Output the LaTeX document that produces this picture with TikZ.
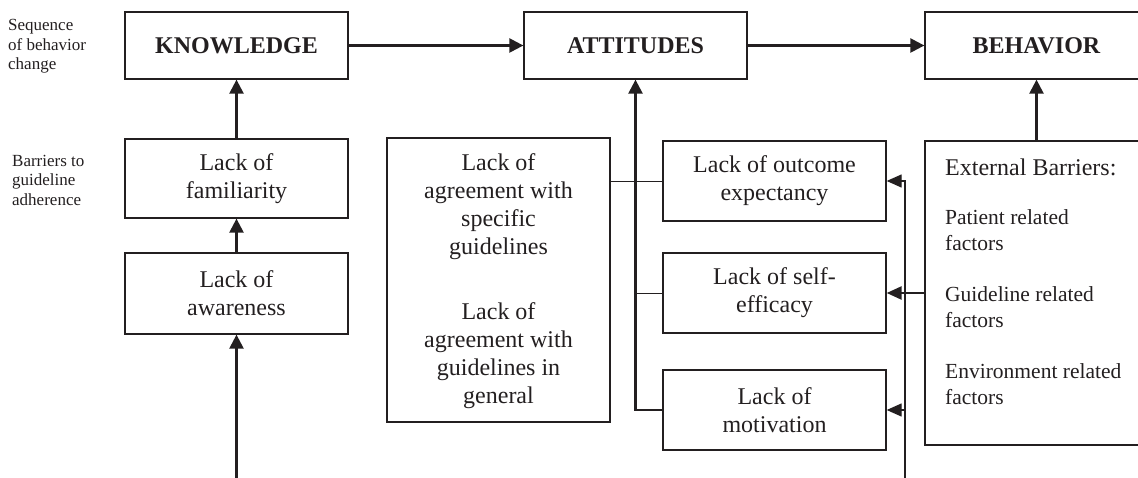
\documentclass[tikz,border=0pt]{standalone}
\usepackage{fontspec}
\setmainfont{Liberation Serif}
\usetikzlibrary{arrows.meta}
\definecolor{ink}{HTML}{231F20}
\begin{document}
\begin{tikzpicture}[x=1pt,y=-1pt,
  box/.style={draw=ink,line width=1.3pt,inner sep=0pt,minimum width=223pt,text=ink},
  head/.style={box,minimum height=67pt,font=\fontsize{24}{28}\selectfont\bfseries},
  bar/.style={box,font=\fontsize{24}{28}\selectfont,align=center},
  txt/.style={inner sep=0pt,text=ink,font=\fontsize{24}{28}\selectfont,align=center},
  side/.style={inner sep=0pt,text=ink,font=\fontsize{17}{19.5}\selectfont,align=left,anchor=west},
  ext/.style={inner sep=0pt,text=ink,font=\fontsize{21.5}{25.5}\selectfont,align=left,anchor=west},
  thick arrow/.style={draw=ink,line width=2.4pt,-{Triangle[length=14pt,width=14pt]}},
  thin arrow/.style={draw=ink,line width=1.2pt,-{Triangle[length=15pt,width=13pt]}},
  thin line/.style={draw=ink,line width=0.9pt},
  thick line/.style={draw=ink,line width=2.4pt}]
\useasboundingbox (0,0) rectangle (1138,478);
\clip (0,0) rectangle (1138,478);

% side labels
\node[side] (seq) at (8,46.5) {Sequence\\of behavior\\change};
\node[side] (barr) at (12,180) {Barriers to\\guideline\\adherence};

% top row
\node[head] (K) at (236.5,45.5) {KNOWLEDGE};
\node[head] (A) at (635.5,45.5) {ATTITUDES};
\node[head] (B) at (1036.5,45.5) {BEHAVIOR};

% knowledge barriers
\node[bar,minimum height=79pt] (fam) at (236.5,178.5) {Lack of\\familiarity};
\node[bar,minimum height=81pt] (aw) at (236.5,293.5) {Lack of\\awareness};

% attitude barriers
\node[box,minimum height=284pt] (big) at (498.5,280) {};
\node[txt] (big1) at (498.5,207) {Lack of\\agreement with\\specific\\guidelines};
\node[txt] (big2) at (498.5,356) {Lack of\\agreement with\\guidelines in\\general};
\node[bar,minimum height=80pt] (out) at (774.5,181) {Lack of outcome\\expectancy};
\node[bar,minimum height=80pt] (self) at (774.5,293) {Lack of self-\\efficacy};
\node[bar,minimum height=80pt] (mot) at (774.5,410) {Lack of\\motivation};

% external barriers
\node[box,minimum height=304pt] (ext) at (1036.5,293) {};
\node[ext,font=\fontsize{24}{28}\selectfont] (e0) at (945,167) {External Barriers:};
\node[ext] (e1) at (945,230) {Patient related\\factors};
\node[ext] (e2) at (945,307) {Guideline related\\factors};
\node[ext] (e3) at (945,384) {Environment related\\factors};

\coordinate (lb) at (236.5,478);
\coordinate (rb) at (905,478);

% main sequence
\draw[thick arrow] (K.east) -- (A.west);
\draw[thick arrow] (A.east) -- (B.west);
\draw[thick arrow] (fam.north) -- (K.south);
\draw[thick arrow] (aw.north) -- (fam.south);
\draw[thick arrow] (lb) -- (aw.south);
\draw[thick arrow] (ext.north) -- (B.south);

% attitudes connectors
\draw[thick arrow] (mot.west) -| (A.south);
\draw[thin line] (big.east |- out.west) -- (out.west);
\draw[thin line] (A.south |- self.west) -- (self.west);

% external connectors
\draw[thin arrow] (rb) |- (out.east);
\draw[thin arrow] (rb |- mot.east) -- (mot.east);
\draw[thick line] (ext.west |- self.east) -- (rb |- self.east);
\draw[thin arrow,line width=2.4pt] (rb |- self.east) -- (self.east);
\end{tikzpicture}
\end{document}
